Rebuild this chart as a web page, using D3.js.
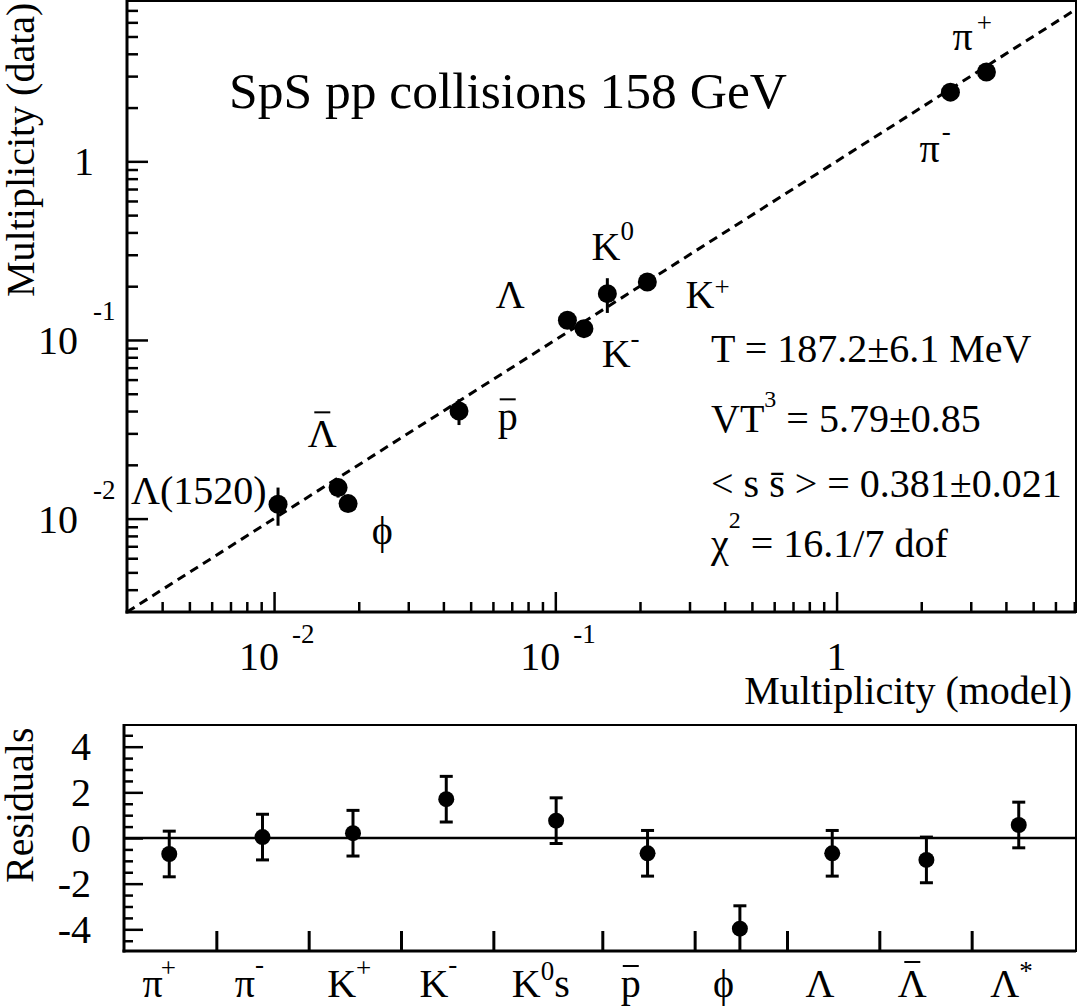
<!DOCTYPE html>
<html><head><meta charset="utf-8">
<script src="https://cdn.jsdelivr.net/npm/d3@7"></script>
<style>
html,body{margin:0;padding:0;background:#fff;}
#wrap{position:relative;width:1078px;height:1007px;overflow:hidden;}
#wrap svg{position:absolute;left:0;top:0;display:block;}
.t{position:absolute;left:0;top:0;white-space:nowrap;line-height:0.8;margin:0;padding:0;color:#000;transform-origin:0 0;}
</style></head><body>
<div id="wrap"><svg id="c" width="1078" height="1007"></svg></div>
<script>
// ---------------- DATA ----------------
// Top panel: multiplicity, model vs data
const particles = ["π+", "π-", "K+", "K-", "K0", "p̄", "ϕ", "Λ", "Λ̄", "Λ(1520)"];
const modelMult = [3.41, 2.54, 0.2124, 0.1264, 0.1531, 0.04545, 0.01833, 0.1104, 0.01689, 0.01033];
const dataMult  = [3.16, 2.44, 0.2111, 0.1157, 0.1817, 0.0400, 0.01213, 0.1288, 0.01491, 0.01202];
const dataErr   = [0.06, 0.05, 0.008, 0.005, 0.04, 0.0066, 0.0008, 0.004, 0.0018, 0.0029];
const xMajorTicks = [0.01, 0.1, 1];
const yMajorTicks = [0.01, 0.1, 1];
const logTickLabels = {"0.01": ["10", "-2"], "0.1": ["10", "-1"], "1": ["1", null]};

// Bottom panel: residuals
const resCategories = ["π+", "π-", "K+", "K-", "K0s", "p̄", "ϕ", "Λ", "Λ̄", "Λ*"];
const resValues = [-0.70, 0.04, 0.21, 1.70, 0.76, -0.67, -3.97, -0.67, -0.96, 0.57];
const resErrors = [1, 1, 1, 1, 1, 1, 1, 1, 1, 1];
const resPos    = [0.49, 1.5, 2.48, 3.49, 4.68, 5.67, 6.67, 7.67, 8.69, 9.69];
const resBinEdges = [0, 1, 2, 3, 4, 5.18, 6.18, 7.18, 8.18, 9.18];
const resYTicks = [-4, -2, 0, 2, 4];
const resYTickLabels = ["-4", "-2", "0", "2", "4"];

// Fit results
const fitLines = [
  [["T = 187.2±6.1 MeV"]],
  [["VT"], ["3", 1, 0, 25], [" = 5.79±0.85"]],
  [["< s s̄ > = 0.381±0.021"]],
  [["χ"], ["2", 1, 0, 29], [" = 16.1/7 dof"]]
];

// ---------------- DRAW ----------------
const svg = d3.select("#c");
const wrap = d3.select("#wrap");
const FS = 40;
const FONT = '"Liberation Serif", "Tinos"';

// HTML text placed by its baseline (x, y); parts: [text, isSup, dx, supRaise]
function htext(x, y, parts, o = {}) {
  const size = o.size || FS, supSize = o.supSize || 27;
  const div = wrap.append("div").attr("class", "t")
    .style("font-family", FONT).style("font-size", size + "px");
  parts.forEach(([s, sup, dx, sdy]) => {
    const sp = div.append("span").text(s).style("font-family", FONT);
    if (sup) sp.style("font-size", supSize + "px").style("position", "relative")
      .style("top", -(sdy || o.supDy || 18) + "px");
    if (dx) sp.style("margin-left", dx + "px");
  });
  const mk = div.append("span").style("display", "inline-block").style("width", "0px")
    .style("height", "0px").style("vertical-align", "baseline");
  const dr = div.node().getBoundingClientRect(), mr = mk.node().getBoundingClientRect();
  const b = mr.top - dr.top, w = mr.left - dr.left;
  if (o.rotate) {
    div.style("left", (x - b) + "px").style("top", (y + w) + "px").style("transform", "rotate(-90deg)");
    return {left: x, w};
  }
  const left = x - (o.anchor === "end" ? w : o.anchor === "middle" ? w / 2 : 0);
  div.style("left", left + "px").style("top", (y - b) + "px");
  if (o.bar) {
    const cx = left + w / 2;
    svg.append("line").attr("x1", cx - 8).attr("x2", cx + 8).attr("y1", y - o.bar).attr("y2", y - o.bar)
      .attr("stroke", "#000").attr("stroke-width", 2);
  }
  return {left, w};
}

// ===== Top panel =====
const x = d3.scaleLog().domain([0.003, 7.1]).range([127, 1076]);
const y = d3.scaleLog().domain([0.003, 7.9]).range([612, 1]);
const gTop = svg.append("g");

function minorLog(dom) {
  const out = [];
  for (let k = -4; k <= 1; k++) for (let m = 2; m <= 9; m++) {
    const v = m * Math.pow(10, k);
    if (v > dom[0] * 1.0001 && v < dom[1] * 0.9999) out.push(v);
  }
  return out;
}
function styleAxis(g, w) {
  g.select(".domain").remove();
  g.selectAll(".tick line").attr("stroke", "#000").attr("stroke-width", w);
  g.selectAll(".tick text").remove();
}

gTop.append("rect").attr("x", x.range()[0]).attr("y", y.range()[1])
  .attr("width", x.range()[1] - x.range()[0]).attr("height", y.range()[0] - y.range()[1])
  .attr("fill", "none").attr("stroke", "#000").attr("stroke-width", 2);

gTop.append("g").attr("transform", `translate(0,${y.range()[0]})`)
  .call(d3.axisBottom(x).tickValues(minorLog(x.domain())).tickSize(-10).tickFormat(""))
  .call(g => styleAxis(g, 2.5));
gTop.append("g").attr("transform", `translate(0,${y.range()[0]})`)
  .call(d3.axisBottom(x).tickValues(xMajorTicks).tickSize(-20).tickFormat(""))
  .call(g => styleAxis(g, 2.5));
gTop.append("g").attr("transform", `translate(${x.range()[0]},0)`)
  .call(d3.axisLeft(y).tickValues(minorLog(y.domain())).tickSize(-11).tickFormat(""))
  .call(g => styleAxis(g, 2.5));
gTop.append("g").attr("transform", `translate(${x.range()[0]},0)`)
  .call(d3.axisLeft(y).tickValues(yMajorTicks).tickSize(-21).tickFormat(""))
  .call(g => styleAxis(g, 2.5));

gTop.append("line").attr("x1", x.range()[0]).attr("x2", x.range()[0]).attr("y1", 0).attr("y2", y.range()[0] + 1.5)
  .attr("stroke", "#000").attr("stroke-width", 3);
gTop.append("line").attr("x1", x.range()[0] - 1.5).attr("x2", x.range()[1]).attr("y1", y.range()[0]).attr("y2", y.range()[0])
  .attr("stroke", "#000").attr("stroke-width", 3);

// tick labels
xMajorTicks.forEach(v => {
  const [b, s] = logTickLabels[String(v)];
  if (s) htext(x(v) - 35, 670, [[b], [s, 1, 13, 27]]);
  else htext(x(v), 670, [[b]], {anchor: "middle"});
});
yMajorTicks.forEach(v => {
  const [b, s] = logTickLabels[String(v)];
  if (s) htext(38, y(v) + 14, [[b], [s, 1, 15, 34]]);
  else htext(94, y(v) + 14, [[b]], {anchor: "end"});
});

// axis titles
htext(1072, 704, [["Multiplicity (model)"]], {anchor: "end"});
htext(34, 3, [["Multiplicity (data)"]], {rotate: true});

// diagonal y = x
gTop.append("line").attr("x1", x(x.domain()[0])).attr("y1", y(x.domain()[0]))
  .attr("x2", x(x.domain()[1])).attr("y2", y(x.domain()[1]))
  .attr("stroke", "#000").attr("stroke-width", 3).attr("stroke-dasharray", "9,6");

// error bars + points
const pts = particles.map((p, i) => ({p, m: modelMult[i], d: dataMult[i], e: dataErr[i]}));
gTop.selectAll("line.err").data(pts).join("line").attr("class", "err")
  .attr("x1", d => x(d.m)).attr("x2", d => x(d.m))
  .attr("y1", d => y(d.d + d.e)).attr("y2", d => y(d.d - d.e))
  .attr("stroke", "#000").attr("stroke-width", 3);
gTop.selectAll("circle.pt").data(pts).join("circle").attr("class", "pt")
  .attr("cx", d => x(d.m)).attr("cy", d => y(d.d)).attr("r", 9.5).attr("fill", "#000");

// point labels (positions in data coordinates)
const ptLabels = [
  {parts: [["π"], ["+", 1, 4, 18]], at: [2.584, 4.18]},
  {parts: [["π"], ["-", 1, 2, 22]], at: [1.972, 0.987]},
  {parts: [["K"], ["0", 1, 0, 20]], at: [0.1346, 0.2791]},
  {parts: [["K"], ["+", 1, 0, 12]], at: [0.2905, 0.1504]},
  {parts: [["Λ"]], at: [0.0614, 0.1504]},
  {parts: [["K"], ["-", 1, 0, 20]], at: [0.1461, 0.0703]},
  {parts: [["p"]], at: [0.0624, 0.0312], bar: 31},
  {parts: [["Λ"]], at: [0.01318, 0.02506], bar: 35},
  {parts: [["ϕ"]], at: [0.02225, 0.00718]},
  {parts: [["Λ(1520)"]], at: [0.0031, 0.0121]}
];
ptLabels.forEach(l => htext(x(l.at[0]), y(l.at[1]), l.parts, {bar: l.bar}));

// title & fit results
htext(229, 108, [["SpS pp collisions 158 GeV"]], {size: 51.5});
const fitBaselines = [362, 432, 497, 557];
fitLines.forEach((parts, i) => htext(711, fitBaselines[i], parts, {supSize: 24}));

// ===== Bottom panel =====
const rx = d3.scaleLinear().domain([0, 10.31]).range([124, 1076]);
const ry = d3.scaleLinear().domain([-4.95, 4.95]).range([951, 725]);
const bot = svg.append("g");

bot.append("defs").append("clipPath").attr("id", "clipR").append("rect")
  .attr("x", rx.range()[0]).attr("y", ry.range()[1])
  .attr("width", rx.range()[1] - rx.range()[0]).attr("height", ry.range()[0] - ry.range()[1]);

bot.append("rect").attr("x", rx.range()[0]).attr("y", ry.range()[1])
  .attr("width", rx.range()[1] - rx.range()[0]).attr("height", ry.range()[0] - ry.range()[1])
  .attr("fill", "none").attr("stroke", "#000").attr("stroke-width", 2);

const resMinor = d3.range(-4.5, 4.51, 0.5).filter(v => Math.abs(v % 2) > 1e-6);
bot.append("g").attr("transform", `translate(${rx.range()[0]},0)`)
  .call(d3.axisLeft(ry).tickValues(resMinor).tickSize(-9).tickFormat(""))
  .call(g => styleAxis(g, 2.5));
bot.append("g").attr("transform", `translate(${rx.range()[0]},0)`)
  .call(d3.axisLeft(ry).tickValues(resYTicks).tickSize(-19).tickFormat(""))
  .call(g => styleAxis(g, 2.5));
bot.append("g").attr("transform", `translate(0,${ry.range()[0]})`)
  .call(d3.axisBottom(rx).tickValues(resBinEdges.slice(1)).tickSize(-20).tickFormat(""))
  .call(g => styleAxis(g, 3));

bot.append("line").attr("x1", rx.range()[0]).attr("x2", rx.range()[0]).attr("y1", ry.range()[1] - 1).attr("y2", ry.range()[0] + 1.5)
  .attr("stroke", "#000").attr("stroke-width", 3);
bot.append("line").attr("x1", rx.range()[0] - 1.5).attr("x2", rx.range()[1]).attr("y1", ry.range()[0]).attr("y2", ry.range()[0])
  .attr("stroke", "#000").attr("stroke-width", 3);

bot.append("line").attr("x1", rx.range()[0]).attr("x2", rx.range()[1]).attr("y1", ry(0)).attr("y2", ry(0))
  .attr("stroke", "#000").attr("stroke-width", 2.5);

resYTicks.forEach((v, i) => htext(91, ry(v) + 13.5, [[resYTickLabels[i]]], {anchor: "end"}));
htext(33, 727, [["Residuals"]], {rotate: true});

const res = resCategories.map((c, i) => ({c, v: resValues[i], e: resErrors[i], p: resPos[i]}));
const rg = bot.append("g").attr("clip-path", "url(#clipR)");
rg.selectAll("line.rerr").data(res).join("line").attr("class", "rerr")
  .attr("x1", d => rx(d.p)).attr("x2", d => rx(d.p))
  .attr("y1", d => ry(d.v + d.e)).attr("y2", d => ry(d.v - d.e))
  .attr("stroke", "#000").attr("stroke-width", 3);
[1, -1].forEach(s => {
  rg.selectAll(null).data(res).join("line")
    .attr("x1", d => rx(d.p) - 6.5).attr("x2", d => rx(d.p) + 6.5)
    .attr("y1", d => ry(d.v + s * d.e)).attr("y2", d => ry(d.v + s * d.e))
    .attr("stroke", "#000").attr("stroke-width", 3);
});
rg.selectAll("circle.rpt").data(res).join("circle").attr("class", "rpt")
  .attr("cx", d => rx(d.p)).attr("cy", d => ry(d.v)).attr("r", 8).attr("fill", "#000");

// category labels
const catParts = [
  {parts: [["π"], ["+", 1, -2, 20]]},
  {parts: [["π"], ["-", 1, 0, 24]]},
  {parts: [["K"], ["+", 1, 0, 20]]},
  {parts: [["K"], ["-", 1, 0, 24]]},
  {parts: [["K"], ["0", 1, 0, 17], ["s"]]},
  {parts: [["p"]], bar: 31},
  {parts: [["ϕ"]]},
  {parts: [["Λ"]]},
  {parts: [["Λ"]], bar: 35},
  {parts: [["Λ"], ["*", 1, 0, 17]]}
];
catParts.forEach((c, i) => htext(rx(resBinEdges[i] + 0.2), 997, c.parts, {bar: c.bar}));
</script>
</body></html>
